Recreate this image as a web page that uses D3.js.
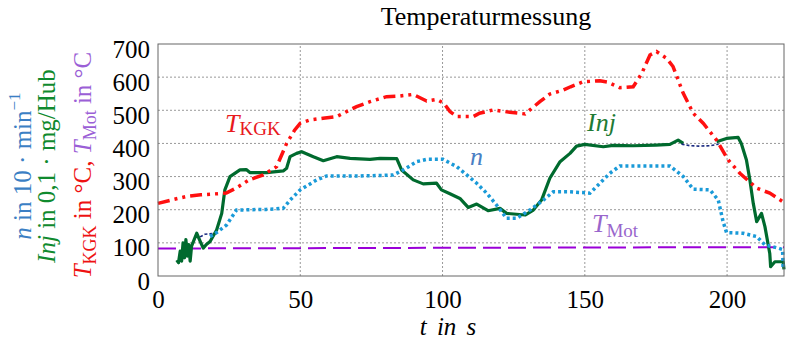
<!DOCTYPE html>
<html>
<head>
<meta charset="utf-8">
<script src="https://cdn.jsdelivr.net/npm/d3@7"></script>
<style>
body { margin: 0; background: #fff; }
svg, svg text { font-family: "Liberation Serif", "Times New Roman", Times, "DejaVu Serif", serif; }
</style>
</head>
<body>
<div id="chart"></div>
<script>
// tick values
var xTicks = [0, 50, 100, 150, 200];
var yTicks = [0, 100, 200, 300, 400, 500, 600, 700];

// [t in s, value]
var tKGK = [[0,219],[5,230],[10,240],[15,245],[24,250],[28,268],[32,290],[37,305],[41.7,330],[45.2,400],[48,440],[50,461],[53.4,471],[58,476],[62.8,481],[66,495],[69.8,511],[74.5,526],[80.3,541],[85,543],[89.7,548],[94.4,528],[97.9,533],[100.5,521],[102.6,496],[105,481],[110.8,481],[113,491],[117.8,501],[123.7,494],[129,489],[130.7,501],[134.2,526],[137.7,549],[142.4,561],[145,571],[149.4,586],[155.3,589],[158,585],[162.3,568],[167,571],[170,611],[172.9,667],[175.2,677],[178.7,657],[181,632],[184.6,551],[188.1,491],[191.6,461],[196.3,410],[200.4,350],[204.5,310],[210.4,265],[215,250],[220,222]];

var tMot = [[0,83],[50,84],[100,85],[150,86],[200,87],[220,87]];

var inj = [[6.6,48],[7.2,40],[7.8,75],[8.3,45],[8.8,100],[9.3,55],[9.8,110],[10.3,60],[10.8,95],[11.3,45],[11.8,90],[12.5,105],[13.6,129],[14.8,105],[15.9,84],[17,95],[18.3,104],[20.6,139],[22.4,189],[23.5,260],[25.3,300],[28.8,320],[31,321],[32.3,312],[38.2,312],[44,317],[45.2,325],[46.4,360],[48.7,370],[50.5,375],[54.6,360],[58.1,348],[62.8,360],[67.5,355],[74.5,352],[78,355],[83.9,354],[85.6,320],[89.7,290],[93.2,278],[97.9,280],[99.6,260],[102.6,248],[106.1,234],[109,207],[112,217],[116,197],[120.2,204],[122.5,189],[129,184],[131.9,199],[134.8,229],[137.7,295],[141.3,345],[144.8,370],[147.1,392],[150,397],[156.5,390],[160,394],[167,393],[175,395],[179.9,397],[182.8,410],[184.6,400],[185.5,null],[196.3,405],[199.8,415],[203.9,418],[205,400],[206.8,350],[208,290],[209.2,219],[210.4,164],[212.1,189],[213.3,149],[215,68],[215.3,28],[216.8,43],[219.7,43],[220,20]];

var injSoll = [[14.8,118],[16.5,126],[19.3,128],[19.5,null],[184,398],[187,393],[190,392],[194,393],[197,398]];

var drehzahl = [[18.3,119],[20.6,131],[24.1,154],[27.6,199],[32.3,200],[38,201],[44,204],[46.4,229],[50,260],[55.8,290],[59.3,302],[65,302],[71,302],[77,303],[82.7,305],[86.2,320],[90.9,345],[94.4,352],[100.2,352],[105,330],[108.5,305],[112,280],[115.5,250],[119,214],[122.5,174],[126,174],[130.7,199],[135.4,229],[138.9,254],[144.8,254],[151.8,250],[155.3,280],[158.8,310],[162.3,332],[170,332],[179.9,332],[184.6,300],[188.1,262],[194,260],[196.9,229],[198.6,164],[199.8,131],[205.6,129],[210.4,119],[213.3,94],[218,84],[219.5,80],[219.7,20]];

var serif = "'Liberation Serif', 'Times New Roman', Times, 'DejaVu Serif', serif";

var chartWidth = 787;
var chartHeight = 353;
var margin = { left: 158, right: 3, top: 44, bottom: 77 };

var svg = d3.select("#chart").append("svg")
    .attr("width", chartWidth)
    .attr("height", chartHeight)
    .attr("font-family", serif);

var x = d3.scaleLinear().domain([0, 220]).range([margin.left, chartWidth - margin.right]);
var y = d3.scaleLinear().domain([0, 700]).range([chartHeight - margin.bottom, margin.top]);

var line = d3.line()
    .defined(function(d) { return d[1] != null; })
    .x(function(d) { return x(d[0]); })
    .y(function(d) { return y(d[1]); });

drawGrid();
drawAxes();
drawSeries();
drawLabels();

function drawGrid() {
    var g = svg.append("g").attr("class", "grid");
    g.selectAll("line.v")
        .data(xTicks.filter(function(d) { return d > 0; }))
        .enter().append("line")
        .attr("x1", function(d) { return x(d); })
        .attr("x2", function(d) { return x(d); })
        .attr("y1", y(0)).attr("y2", y(700))
        .attr("stroke", "#999").attr("stroke-width", 1)
        .attr("stroke-dasharray", "2,2");
    g.selectAll("line.h")
        .data(yTicks.filter(function(d) { return d > 0 && d < 700; }))
        .enter().append("line")
        .attr("x1", x(0)).attr("x2", x(220))
        .attr("y1", function(d) { return y(d); })
        .attr("y2", function(d) { return y(d); })
        .attr("stroke", "#999").attr("stroke-width", 1)
        .attr("stroke-dasharray", "2,2");
}

function drawAxes() {
    var gx = svg.append("g")
        .attr("transform", "translate(0," + y(0) + ")")
        .call(d3.axisBottom(x).tickValues(xTicks).tickSize(0));
    gx.attr("font-family", serif).attr("font-size", 25);
    gx.select(".domain").remove();
    gx.selectAll("text")
        .attr("y", 32).attr("dy", 0)
        .attr("fill", "#000");

    var gy = svg.append("g")
        .attr("transform", "translate(" + x(0) + ",0)")
        .call(d3.axisLeft(y).tickValues(yTicks).tickSize(0));
    gy.attr("font-family", serif).attr("font-size", 25);
    gy.select(".domain").remove();
    gy.selectAll("text")
        .attr("x", -8).attr("dy", 13)
        .attr("fill", "#000");

    // x label
    svg.append("text")
        .attr("x", 448).attr("y", 335)
        .attr("text-anchor", "middle")
        .attr("font-size", 25)
        .attr("font-style", "italic")
        .attr("word-spacing", 4)
        .text("t in s");

    // title
    svg.append("text")
        .attr("x", 486).attr("y", 25)
        .attr("text-anchor", "middle")
        .attr("font-size", 26)
        .text("Temperaturmessung");

    // y labels, three rotated lines
    var l1 = svg.append("text")
        .attr("transform", "translate(31,166) rotate(-90)")
        .attr("text-anchor", "middle")
        .attr("font-size", 25)
        .attr("fill", "#3b7fc4");
    l1.append("tspan").attr("font-style", "italic").text("n");
    l1.append("tspan").text(" in 10 \u00b7 min");
    l1.append("tspan").attr("dy", -11).attr("font-size", 17).text("\u22121");

    var l2 = svg.append("text")
        .attr("transform", "translate(55,166) rotate(-90)")
        .attr("text-anchor", "middle")
        .attr("font-size", 25)
        .attr("fill", "#108a2e");
    l2.append("tspan").attr("font-style", "italic").text("Inj");
    l2.append("tspan").text(" in 0,1 \u00b7 mg/Hub");

    var l3 = svg.append("text")
        .attr("transform", "translate(91,165) rotate(-90)")
        .attr("text-anchor", "middle")
        .attr("font-size", 25)
        .attr("fill", "#ee1111");
    l3.append("tspan").attr("font-style", "italic").text("T");
    l3.append("tspan").attr("dy", 5).attr("font-size", 18).text("KGK");
    l3.append("tspan").attr("dy", -5).text(" in \u00b0C, ");
    l3.append("tspan").attr("font-style", "italic").attr("fill", "#9b5fd6").text("T");
    l3.append("tspan").attr("dy", 5).attr("font-size", 18).attr("fill", "#9b5fd6").text("Mot");
    l3.append("tspan").attr("dy", -5).attr("fill", "#9b5fd6").text(" in \u00b0C");
}

function drawSeries() {
    var plot = svg.append("g").attr("class", "series");

    plot.append("path").datum(tMot)
        .attr("d", line).attr("fill", "none")
        .attr("stroke", "#9a00d8").attr("stroke-width", 2)
        .attr("stroke-dasharray", "18,7");

    plot.append("path").datum(inj)
        .attr("d", line).attr("fill", "none")
        .attr("stroke", "#006a2e").attr("stroke-width", 3.2)
        .attr("stroke-linejoin", "round");

    plot.append("path").datum(injSoll)
        .attr("d", line).attr("fill", "none")
        .attr("stroke", "#1a2a80").attr("stroke-width", 1.6)
        .attr("stroke-dasharray", "3,2");

    plot.append("path").datum(drehzahl)
        .attr("d", line).attr("fill", "none")
        .attr("stroke", "#1a9ad8").attr("stroke-width", 3.5)
        .attr("stroke-dasharray", "3,3");

    plot.append("path").datum(tKGK)
        .attr("d", line).attr("fill", "none")
        .attr("stroke", "#ff1010").attr("stroke-width", 3.5)
        .attr("stroke-dasharray", "12,5,3,5,3,5");

    // plot frame
    svg.append("rect")
        .attr("x", x(0)).attr("y", y(700))
        .attr("width", x(220) - x(0)).attr("height", y(0) - y(700))
        .attr("fill", "none").attr("stroke", "#666").attr("stroke-width", 1);
}

function drawLabels() {
    var kgk = svg.append("text").attr("x", 225).attr("y", 132)
        .attr("font-size", 26).attr("fill", "#e8191e");
    kgk.append("tspan").attr("font-style", "italic").text("T");
    kgk.append("tspan").attr("dy", 3).attr("font-size", 19).text("KGK");

    svg.append("text").attr("x", 587).attr("y", 131)
        .attr("font-size", 26).attr("font-style", "italic")
        .attr("fill", "#1e7a34").text("Inj");

    svg.append("text").attr("x", 470).attr("y", 165)
        .attr("font-size", 26).attr("font-style", "italic")
        .attr("fill", "#4a80c4").text("n");

    var mot = svg.append("text").attr("x", 592).attr("y", 232)
        .attr("font-size", 26).attr("fill", "#9966cc");
    mot.append("tspan").attr("font-style", "italic").text("T");
    mot.append("tspan").attr("dy", 5).attr("font-size", 19).text("Mot");
}
</script>
</body>
</html>
